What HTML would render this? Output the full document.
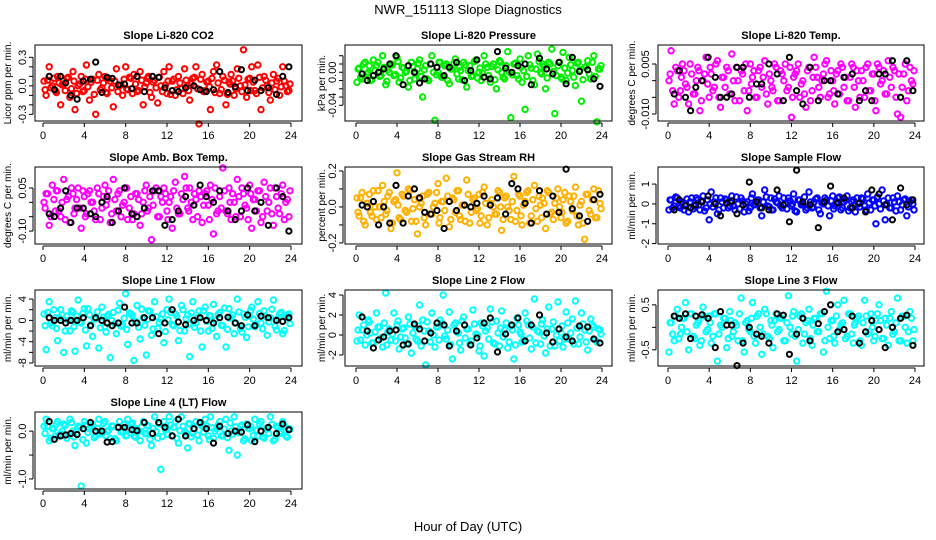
<!DOCTYPE html>
<html><head><meta charset="utf-8"><style>
body{margin:0;background:#fff}
svg{display:block;font-family:"Liberation Sans",Arial,sans-serif}
</style></head><body>
<svg id="chart" width="936" height="540" viewBox="0 0 936 540">
<rect width="936" height="540" fill="#fff"/>
<text x="468" y="14" text-anchor="middle" font-size="13">NWR_151113  Slope Diagnostics</text>
<text x="468" y="531" text-anchor="middle" font-size="13">Hour of Day (UTC)</text>
</svg>
<script>
const hours=[0.1,0.3,0.6,0.9,1.2,1.4,1.7,2.0,2.3,2.6,2.9,3.1,3.4,3.7,4.0,4.2,4.5,4.8,5.1,5.4,5.7,6.0,6.2,6.5,6.8,7.1,7.4,7.7,8.0,8.2,8.5,8.8,9.1,9.4,9.7,10.0,10.2,10.5,10.8,11.1,11.4,11.7,12.0,12.2,12.5,12.8,13.1,13.4,13.7,14.0,14.2,14.5,14.8,15.1,15.4,15.7,16.0,16.2,16.5,16.8,17.1,17.4,17.7,18.0,18.2,18.5,18.8,19.1,19.4,19.7,20.0,20.2,20.5,20.8,21.1,21.4,21.7,22.0,22.3,22.6,22.9,23.2,23.5,23.8];
const hours2=[0.2,0.45,0.75,1.05,1.3,1.55,1.85,2.15,2.45,2.75,3.0,3.25,3.55,3.85,4.1,4.35,4.65,4.95,5.25,5.55,5.85,6.1,6.35,6.65,6.95,7.25,7.55,7.85,8.1,8.35,8.65,8.95,9.25,9.55,9.85,10.1,10.35,10.65,10.95,11.25,11.55,11.85,12.1,12.35,12.65,12.95,13.25,13.55,13.85,14.1,14.35,14.65,14.95,15.25,15.55,15.85,16.1,16.35,16.65,16.95,17.25,17.55,17.85,18.1,18.35,18.65,18.95,19.25,19.55,19.85,20.1,20.35,20.65,20.95,21.25,21.55,21.85,22.15,22.45,22.75,23.05,23.35,23.65,23.9];
const blackHours=[0.6,1.1,1.7,2.2,2.7,3.3,3.9,4.6,5.1,5.7,6.2,6.7,7.3,7.9,8.6,9.1,9.8,10.6,11.2,11.8,12.5,13.1,13.8,14.6,15.2,15.8,16.5,17.1,17.9,18.6,19.2,19.8,20.5,21.1,21.8,22.6,23.2,23.8];
const xTicks=[0,4,8,12,16,20,24];
const titles=["Slope Li-820 CO2","Slope Li-820 Pressure","Slope Li-820 Temp.","Slope Amb. Box Temp.","Slope Gas Stream RH","Slope Sample Flow","Slope Line 1 Flow","Slope Line 2 Flow","Slope Line 3 Flow","Slope Line 4 (LT) Flow"];
const yTitles=["Licor ppm per min.","kPa per min.","degrees C per min.","degrees C per min.","percent per min.","ml/min per min.","ml/min per min.","ml/min per min.","ml/min per min.","ml/min per min."];
const colors=["#ff0000","#00ee00","#ff00ff","#ff00ff","#ffb000","#0000ff","#00ffff","#00ffff","#00ffff","#00ffff"];
const yRanges=[[-0.37,0.43],[-0.059,0.033],[-0.0121,0.0107],[-0.145,0.123],[-0.206,0.222],[-2.02,1.86],[-8.56,5.7],[-3.1,4.5],[-0.86,0.83],[-1.21,0.4]];
const yTickVals=[[-0.3,-0.2,-0.1,0,0.1,0.2,0.3],[-0.04,-0.03,-0.02,-0.01,0,0.01,0.02],[-0.01,-0.005,0,0.005],[-0.1,-0.05,0,0.05],[-0.2,-0.1,0,0.1,0.2],[-2,-1,0,1],[-8,-6,-4,-2,0,2,4],[-2,0,2,4],[-0.5,0,0.5],[-1,-0.5,0]];
const yTickLabels=[["-0.3","","","0.0","","","0.3"],["-0.04","","","","0.00","",""],["-0.010","","","0.005"],["-0.10","","","0.05"],["-0.2","","0.0","","0.2"],["-2","-1","0","1"],["-8","","-4","","0","","4"],["-2","0","2","4"],["-0.5","","0.5"],["-1.0","","0.0"]];
const s0=[.05,-.1,.2,.0,-.05,.1,-.2,.02,.08,-.12,.15,-.25,.0,.1,-.05,.22,-.15,.07,-.3,.12,-.02,.1,-.08,.05,-.22,.18,.0,-.1,.2,-.04,.08,.12,-.06,.15,-.2,.03,.1,-.12,.06,-.18,.0,.15,-.08,.2,.05,-.1,.1,-.03,.18,.0,-.15,.08,.2,-.4,.12,-.05,.05,-.25,.15,.22,-.08,.1,-.2,.04,.12,-.1,.18,.0,.38,-.12,.08,.2,-.05,.22,-.25,.1,.0,-.15,.12,.05,-.1,.2,.0,-.05];
const s1=[-.012,.005,-.008,.012,.0,-.01,.015,.008,-.005,.02,-.015,.003,.01,-.004,.018,-.012,.006,.0,-.018,.012,-.008,.004,.015,-.03,.008,-.01,.02,-.058,.0,.012,-.006,.01,-.014,.004,.016,-.008,.002,.012,-.018,.008,-.004,.015,.0,-.01,.02,.006,-.012,.01,-.02,.014,.0,-.008,.025,-.055,.01,-.004,.016,-.012,-.045,.02,.005,-.015,.022,.0,.01,-.02,.012,.028,-.05,.008,-.006,.024,-.01,.018,.002,-.016,.012,-.035,.006,.014,-.008,.02,-.06,.004];
const s2=[.0,.009,-.007,.003,-.003,.005,-.001,-.007,.002,-.004,.004,-.009,.0,.007,-.005,.002,-.002,.006,-.008,.001,.004,-.004,.008,-.006,.0,.003,-.003,-.009,.005,.001,-.005,.003,-.002,.006,-.007,.0,-.003,.004,-.006,.002,.005,-.002,-.011,.001,.003,-.005,.0,-.008,.004,-.003,.007,.001,-.005,.002,.006,-.004,.0,-.007,.003,.005,-.002,-.006,.001,.004,-.008,.0,.003,-.005,.005,-.003,.002,-.009,.004,.0,-.004,.006,-.002,.003,-.01,-.011,.002,-.006,.004,-.001];
const s3=[.0,.03,-.08,.06,-.03,.04,-.05,.08,.01,-.07,.03,-.02,.05,-.09,.02,-.04,.04,.0,-.06,.03,-.02,.06,.01,-.07,.08,-.03,.04,-.01,.05,-.06,.02,-.04,.03,-.08,.0,.06,-.02,-.13,.04,-.05,.02,.05,-.03,.0,-.09,.07,-.04,.03,.09,-.02,.05,-.06,.01,.04,-.07,.03,-.01,.06,-.11,-.04,.02,.12,-.03,.05,-.06,.0,.08,-.05,.03,-.02,.06,-.09,.01,.04,-.07,.07,-.03,.05,-.08,.02,-.04,.06,.0,-.05];
const s4=[.05,-.05,.08,-.1,.02,-.03,.09,-.07,.0,.12,-.04,.06,-.12,.03,.19,-.06,.07,-.02,.1,-.08,.04,-.15,.0,.06,-.1,.08,-.04,.02,.13,-.06,.03,.16,-.11,.05,-.03,.09,-.07,.01,.15,-.09,.04,-.02,.07,-.05,.11,-.1,.02,.0,-.04,.08,-.13,.05,.0,-.07,.17,-.02,.06,-.1,.03,.09,-.05,.12,-.08,.01,.05,-.12,.08,-.03,.02,.1,-.06,.04,-.09,.06,-.02,.11,-.1,.03,-.18,.07,-.04,.1,-.06,.02];
const s5=[-.3,.2,-.1,.3,-.2,.1,.0,-.4,.3,-.1,.2,-.3,.4,-.2,-.8,.6,.1,-.5,.3,-.2,.2,-.1,.4,-.3,.0,.3,-.4,.1,-.2,.5,.0,.2,-.6,.7,-.1,.3,-.3,.1,.4,-.2,.0,.3,-.1,.5,-.4,.2,.0,-.3,.6,-.2,.1,.3,-.5,.0,.2,-.6,.4,-.1,.3,-.3,.1,.4,-.2,.2,-.4,.0,.3,-.1,.5,-.3,.2,-1.0,.0,.7,-.8,.3,-.2,.1,.4,-.3,.2,-.6,.1,.0];
const s6=[1.2,-5.5,3.5,-1,.5,-3.8,2,-6,.8,-2,1.5,-5.8,3.8,-.5,2.2,-4.8,1,-3,.3,-5.2,2.5,-1.2,.8,-7,1.5,-2.5,3.2,-.8,5,-4.5,1.2,-7.5,2.8,-3.5,.5,-6.5,1.8,-2.8,3.5,-1.5,.2,-4.2,2,4,-.8,1.2,-3.8,2.8,-2,1,-6.8,3.5,-.5,1.8,-5,2.5,-2,.8,3,-3,1.5,-1,-5,2.2,.5,-2.5,4,-1.5,1.2,-3.2,.8,2.5,-1.2,3.5,-.5,1.8,-2.8,.5,3.8,-1.8,1.2,-2.5,.5,1.2];
const s7=[-.6,2,.5,-1,1.5,.2,-.8,2.2,.8,-1.2,4.2,.3,-.5,2.2,1,-1.4,.6,-.3,1.8,-1.8,.9,-.6,3,1.5,-3,.4,2.2,-1.2,.8,1.5,4,-.4,2.3,-2.4,1.2,.2,-1.5,1.8,.6,-.9,2.5,.1,-1.6,1.2,-2.1,.7,2.6,-.8,1.4,-1.1,2.4,.5,-1.3,.9,-2.4,1.7,.3,-.7,2.2,1,-1.4,3.6,.4,-.9,1.5,-1.8,2.8,.6,-1.1,3.3,.2,-1.2,2.3,-.4,1.6,3.4,-.9,2.2,.5,-1.5,1.6,.8,-.7,.5];
const s8=[-.55,.1,-.3,.4,-.15,.2,.55,-.5,.3,-.25,.1,-.4,.45,-.1,.25,-.35,.3,-.75,.05,.2,-.45,.35,-.2,.1,-.3,.65,-.55,.15,-.1,.55,-.35,.3,-.6,.4,-.2,.15,-.45,.3,-.05,.2,-.3,.7,-.15,.35,-.75,.25,-.35,.1,.4,-.4,.2,-.1,.3,-.55,.8,-.25,.15,-.35,.5,.05,.6,-.2,.3,-.35,.1,.25,-.4,.6,-.15,.3,-.3,.15,.5,-.25,.2,-.4,.35,-.1,.65,-.3,.25,-.35,.35,-.3];
const s9=[.1,.25,-.2,.05,-.1,.2,-.05,.15,-.15,.25,.0,-.3,.1,-1.15,.2,-.25,.05,.15,-.1,.25,-.05,.2,.0,-.15,.1,-.2,.2,.0,-.1,.25,.15,-.1,.05,-.2,.2,-.05,.1,-.3,.3,-.15,-.8,.2,.05,.3,-.1,.2,-.25,.3,.0,-.35,.15,-.05,.2,-.2,.1,.25,-.1,.3,-.15,.05,.2,-.1,.25,-.4,.0,.3,-.5,.1,-.2,.15,.05,-.2,.25,-.1,.2,-.15,.05,.3,-.2,.1,-.05,.2,-.1,.05];
const t0=[-.04,.06,-.02,.08,-.07,.03,.01,-.05,.09,-.03,.05,-.08,.02,-.06,.07,-.01,.04,-.09,.06,-.04,.03,-.07,.08,-.02,.05,-.06,.01,.07,-.03,.09,-.08,.02,-.05,.06,-.01,.08,-.07,.04,-.02,.09,-.06,.01,.05,-.09,.07,-.04,.03,-.08,.06,-.05,.02,.09,-.03,.07,-.06,.04,-.01,.08,-.07,.03,-.04,.06,-.09,.02,.05,-.03,.08,-.06,.01,.07,-.05,.04,-.08,.09,-.02,.06,-.07,.03,-.04,.08,-.01,.05,-.06,.02];
const t1=[.004,-.006,.01,-.002,.008,-.009,.002,.012,-.004,.006,-.011,.0,.009,-.003,.013,-.007,.005,.001,-.01,.007,-.001,.011,-.005,.003,-.008,.01,.0,-.003,.012,-.006,.008,-.01,.004,.011,-.002,.006,-.009,.009,.002,-.005,.013,-.007,.005,-.001,.01,-.004,.007,-.009,.003,.012,-.006,.008,.0,-.003,.011,-.008,.006,.002,-.005,.009,-.01,.004,.013,-.002,.007,-.007,.01,.001,-.004,.012,-.008,.005,-.001,.009,-.006,.011,.003,-.009,.007,-.002,.012,-.005,.004,.008];
const t2=[.002,-.003,.004,-.005,.001,.003,-.002,.005,-.004,.0,.003,-.006,.002,-.001,.004,-.003,.005,-.005,.001,-.002,.003,-.004,.0,.004,-.006,.002,.005,-.003,-.001,.003,-.005,.004,.001,-.004,.002,-.002,.005,-.006,.003,.0,-.003,.004,-.005,.002,.005,-.001,-.004,.003,-.006,.001,.004,-.002,.0,.005,-.005,.003,-.003,.002,-.004,.004,.001,-.006,.005,-.002,.003,-.005,.0,.004,-.003,.002,-.006,.005,-.001,.003,-.004,.001,.004,-.005,.002,-.002,.005,-.003,.0,.003];
const t3=[-.02,.03,-.05,.01,.04,-.03,.0,-.06,.02,.05,-.04,.01,-.02,.04,-.05,.03,.0,-.03,.05,-.06,.02,-.01,.04,-.04,.01,.03,-.05,.0,.05,-.02,-.06,.03,.01,-.04,.04,-.03,.02,-.01,.05,-.05,.0,.03,-.06,.02,.04,-.02,-.04,.01,.05,-.03,.0,.03,-.05,.02,-.01,.04,-.06,.01,.05,-.03,-.02,.04,-.04,.0,.03,-.05,.02,.05,-.01,-.06,.03,.01,-.03,.04,-.05,.02,.0,-.04,.05,-.02,.03,-.06,.01,.04];
const t4=[-.03,.05,-.08,.02,.07,-.05,.0,.09,-.06,.03,-.02,.08,-.09,.04,.01,-.07,.06,-.03,.09,-.01,-.08,.05,.02,-.06,.07,-.04,.0,.08,-.09,.03,-.02,.06,-.07,.04,.09,-.05,.01,-.08,.07,-.03,.05,-.01,-.09,.08,.02,-.06,.04,-.04,.09,.0,-.07,.06,-.02,.03,-.08,.07,-.05,.01,.08,-.09,.04,-.01,.06,-.06,.02,.09,-.04,-.07,.05,.0,-.03,.08,-.08,.03,.06,-.05,.01,-.09,.07,-.02,.04,-.06,.09,-.01];
const t5=[.2,-.2,.35,-.1,.05,-.3,.25,.1,-.25,.3,-.05,.15,-.35,.2,.0,-.15,.3,-.3,.1,.25,-.2,.05,-.1,.35,-.25,.15,.0,-.35,.3,-.05,.2,-.2,.1,.35,-.15,-.3,.25,.05,-.1,.3,-.25,.15,.0,-.35,.2,-.05,.35,-.2,.1,-.15,.25,-.3,.05,.3,-.1,.15,-.25,.0,.35,-.2,.2,-.35,.1,-.05,.3,-.15,.25,-.3,.05,.2,-.1,.35,-.25,.15,.0,-.2,.3,-.35,.1,-.05,.25,-.15,.2,-.3];
const t6=[-1,1.5,-.5,2,-1.5,.5,1,-2,.0,1.8,-1.2,.8,-.3,1.3,-1.8,2.2,-.8,.3,1.6,-1.4,.6,-2.2,1.1,.0,-.6,1.9,-1.1,.4,-1.7,1.4,.9,-.2,-1.3,2.1,-.9,.2,1.7,-1.6,.7,-.4,1.2,-2.1,.1,1.5,-1,.8,-1.9,2,.3,-.7,1.4,-1.3,.5,-2,1.8,-.2,.9,-1.5,.0,1.1,-.9,2.3,-1.7,.4,1,-.5,1.6,-2.2,.6,-1.2,1.9,.2,-.8,1.3,-1.6,.7,-.3,2.1,-1.1,.4,1.5,-1.9,.9,-.6];
const t7=[.5,-.5,1,.0,1.3,-.8,.3,.8,-.3,1.2,-1,.6,.1,-.6,1.4,-.2,.7,-.9,1.1,.2,-.4,.9,-1.1,.4,1.3,-.7,.0,.8,-.5,1.2,-.1,.5,-1,1,.3,-.8,1.4,-.3,.6,-.6,1.1,.0,-1.1,.9,.4,-.4,1.3,-.9,.2,.7,-.2,1.2,-.7,.5,-1,1,.1,-.5,1.4,-.3,.8,-.8,.3,1.1,-.1,.6,-1.1,1.3,.0,-.6,.9,-.4,1.2,.2,-.9,.7,-.2,1.1,-.7,.4,1,-.5,.6,.1];
const t8=[.1,-.15,.25,-.25,.0,.2,-.1,.3,-.2,.05,.15,-.3,.25,-.05,.1,-.2,.3,-.15,.0,.2,-.25,.15,-.1,.05,.3,-.3,.1,-.05,.2,-.2,.25,.0,-.15,.3,-.25,.05,.15,-.1,.2,-.3,.1,.0,.25,-.2,-.05,.3,-.15,.15,-.25,.05,.2,-.1,.3,-.3,.0,.15,-.2,.25,-.05,.1,-.25,.3,-.15,.05,.2,-.3,.1,.25,-.1,.0,-.2,.3,.15,-.25,.05,.2,-.15,.1,-.3,.25,.0,-.1,.2,-.05];
const t9=[-.05,.1,-.15,.05,.15,-.1,.0,.12,-.08,.18,-.12,.03,.08,-.18,.13,-.03,.1,-.14,.06,-.06,.16,-.1,.02,.11,-.16,.07,-.02,.14,-.09,.04,.17,-.13,.0,.09,-.05,.12,-.17,.06,-.01,.15,-.11,.03,-.07,.13,.08,-.15,.01,.1,-.04,.16,-.12,.05,-.08,.14,-.02,.11,-.18,.07,.0,.12,-.1,.04,-.14,.17,-.06,.09,-.03,.13,-.16,.06,.1,-.09,.02,.15,-.12,.05,-.05,.14,-.17,.08,-.01,.11,-.13,.04];
const b0=[.1,-.04,.1,.03,-.1,-.14,.05,.07,.25,-.07,.09,.08,.01,.02,-.03,.1,-.06,.1,.09,-.02,-.05,-.06,-.02,.0,-.04,-.06,-.04,.15,-.07,-.01,.17,-.05,.06,-.05,-.02,-.09,.1,.2];
const b1=[-.002,-.01,-.004,.0,.004,.01,.02,-.015,.008,.0,-.013,-.008,.01,.006,-.004,.006,.012,-.01,.002,.015,-.006,-.008,.025,.005,.0,.008,.01,-.015,.017,.004,-.002,.012,-.014,.018,.001,.003,-.008,-.017];
const b2=[-.004,.003,-.005,-.009,-.002,.0,.007,.001,-.005,-.005,-.004,.004,.004,-.005,-.001,-.001,.005,.002,-.006,.007,-.003,-.007,.004,-.006,.0,.0,-.004,.001,.002,-.006,-.003,-.006,.002,.002,.006,-.005,.006,-.003];
const b3=[-.04,-.05,-.02,.04,-.07,-.02,-.02,-.04,-.05,.0,.02,-.07,-.03,.05,-.04,-.05,-.02,.04,.04,-.08,-.06,-.03,.02,-.01,.06,.02,.0,.04,-.03,-.06,-.03,.05,-.03,.0,-.08,.05,.02,-.1];
const b4=[.01,.0,.03,-.1,.0,-.09,.12,-.09,.06,.1,.05,-.03,-.04,-.02,-.12,.03,-.02,.01,.0,.02,.06,.01,.05,-.04,.13,.1,.02,-.09,.09,-.04,.06,-.03,.21,-.01,-.05,-.08,.04,.07];
const b5=[-.3,.2,-.1,-.2,-.05,.1,.4,.0,-.6,.05,.15,-.5,-.05,1.1,.1,-.2,-.3,.7,-.05,-.9,1.7,.1,-.05,-1.2,.1,.9,.05,.3,-.2,.05,-.4,.7,.5,-.05,-.8,.8,-.05,.2];
const b6=[.5,0,0,-.5,0,0,.5,-1,.5,0,-.5,-1,-.5,2.5,-.5,-.5,.5,.5,-2.5,-.5,2,-.3,-.8,0,.5,0,-.5,.5,.6,-.5,-1,1,-1,.8,.5,0,-.2,.5];
const b7=[1.8,.4,-1.3,-.5,-.2,.4,.5,-1,-.9,1.1,.6,-.6,.2,1.2,1,-1.1,.4,1,-1,-.3,1.2,1.7,-1.7,.1,1,1.7,-.6,1,2,.2,-.7,.6,-.2,-.6,.9,.8,-.4,-.8];
const b8=[.25,.2,.3,-.25,.25,.28,.2,-.45,.35,.05,.05,-.85,-.35,.0,-.15,-.2,-.35,.3,.27,-.6,-.15,.2,-.3,.08,.35,.5,-.1,-.05,.25,-.35,-.1,.15,-.05,-.45,.0,.2,.27,-.4];
const b9=[.2,-.17,-.1,-.08,-.05,-.07,.05,.18,.0,.0,-.23,-.22,.08,.08,.03,.01,.18,-.05,.18,.08,-.1,.25,-.1,.05,.18,.05,-.25,.1,-.05,.0,-.02,.13,-.22,.0,.08,-.05,.15,.03];
const series=[s0,s1,s2,s3,s4,s5,s6,s7,s8,s9];
const bandSeries=[t0,t1,t2,t3,t4,t5,t6,t7,t8,t9];
const blacks=[b0,b1,b2,b3,b4,b5,b6,b7,b8,b9];

const NS="http://www.w3.org/2000/svg";
const svg=document.getElementById('chart');
const cols=[{l:35,r:302,x0:43,x1:291,yt:8},{l:345,r:612,x0:356,x1:602,yt:322},{l:658,r:924,x0:668,x1:915,yt:632}];
const rows=[{t:45,b:121},{t:167,b:244},{t:290,b:366},{t:412,b:489}];
function mk(tag,attrs,parent){const e=document.createElementNS(NS,tag);for(const k in attrs)e.setAttribute(k,attrs[k]);(parent||svg).appendChild(e);return e;}
for(let p=0;p<10;p++){
  const c=cols[p%3], r=rows[Math.floor(p/3)];
  const g=mk('g',{});
  
  
  const xS=v=>c.x0+(v/24)*(c.x1-c.x0);
  const [lo,hi]=yRanges[p];
  const yS=v=>r.b-(v-lo)/(hi-lo)*(r.b-r.t);
  const t=mk('text',{x:(c.l+c.r)/2,y:r.t-6,'text-anchor':'middle','font-size':11,'font-weight':'bold'},g);
  t.textContent=titles[p];
  
  
  const yt=mk('text',{x:0,y:0,'text-anchor':'middle','font-size':10,transform:`translate(${c.yt+3},${(r.t+r.b)/2}) rotate(-90)`},g);
  yt.textContent=yTitles[p];
  
  
  const cg=mk('g',{fill:'none',stroke:colors[p],'stroke-width':2},g);
  
  
  const ys=series[p];
  for(let i=0;i<Math.min(ys.length,hours.length);i++){
    const pt=mk('circle',{cx:xS(hours[i]).toFixed(1),cy:yS(ys[i]).toFixed(1),r:2.7},cg);
    
    
  }
  const ts=bandSeries[p];
  for(let i=0;i<Math.min(ts.length,hours2.length);i++){
    const pt=mk('circle',{cx:xS(hours2[i]).toFixed(1),cy:yS(ts[i]).toFixed(1),r:2.7},cg);
    
    
  }
  const bg=mk('g',{fill:'none',stroke:'#000','stroke-width':2},g);
  
  
  const bs=blacks[p];
  for(let i=0;i<Math.min(bs.length,blackHours.length);i++){
    const pt=mk('circle',{cx:xS(blackHours[i]).toFixed(1),cy:yS(bs[i]).toFixed(1),r:2.6},bg);
    
    
  }
  const box=mk('rect',{x:c.l,y:r.t,width:c.r-c.l,height:r.b-r.t,fill:'none',stroke:'#000','stroke-width':1},g);
  
  
  const xa=mk('g',{},g);
  
  
  mk('line',{x1:xS(0),x2:xS(24),y1:r.b+2,y2:r.b+2,stroke:'#000'},xa);
  xTicks.forEach(v=>{
    mk('line',{x1:xS(v),x2:xS(v),y1:r.b+2,y2:r.b+6,stroke:'#000'},xa);
    const tl=mk('text',{x:xS(v),y:r.b+18,'text-anchor':'middle','font-size':11},xa);
    tl.textContent=v;
    
    
  });
  const ya=mk('g',{},g);
  
  
  const tv=yTickVals[p];
  mk('line',{x1:c.l-2,x2:c.l-2,y1:yS(tv[0]),y2:yS(tv[tv.length-1]),stroke:'#000'},ya);
  tv.forEach((v,i)=>{
    mk('line',{x1:c.l-6,x2:c.l-2,y1:yS(v),y2:yS(v),stroke:'#000'},ya);
    const lab=yTickLabels[p][i];
    if(lab){
      const tl=mk('text',{x:0,y:0,'text-anchor':'middle','font-size':11,transform:`translate(${c.l-9},${yS(v)}) rotate(-90)`},ya);
      tl.textContent=lab;
      
      
    }
  });
}
</script>
</body></html>
